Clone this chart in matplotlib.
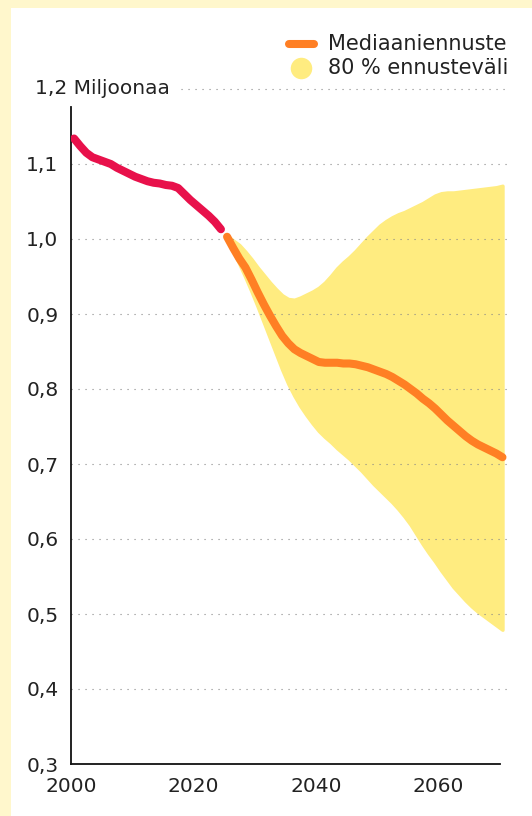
import matplotlib
matplotlib.use("Agg")
import matplotlib.pyplot as plt
from matplotlib.patches import Rectangle
from matplotlib.lines import Line2D
import numpy as np

plt.rcParams['font.family'] = ['DejaVu Sans']

# ---- data ----
hist_years = list(range(2000, 2025))
hist_vals = [1.134, 1.124, 1.115, 1.109, 1.106, 1.103, 1.100, 1.095, 1.091, 1.087,
             1.083, 1.080, 1.077, 1.075, 1.074, 1.072, 1.071, 1.068, 1.060, 1.052,
             1.045, 1.038, 1.031, 1.023, 1.013]

fc_years = list(range(2025, 2071))
median = [1.003, 0.988, 0.974, 0.962, 0.946, 0.929, 0.913, 0.898, 0.884, 0.871,
          0.861, 0.853, 0.848, 0.844, 0.840, 0.836, 0.835, 0.835, 0.835, 0.834,
          0.834, 0.833, 0.831, 0.829, 0.826, 0.823, 0.820, 0.816, 0.811, 0.806,
          0.800, 0.794, 0.787, 0.781, 0.774, 0.766, 0.758, 0.751, 0.744, 0.737,
          0.731, 0.726, 0.722, 0.718, 0.714, 0.709]
upper = [1.004, 0.998, 0.992, 0.983, 0.973, 0.962, 0.952, 0.942, 0.933, 0.925,
         0.920, 0.919, 0.922, 0.926, 0.930, 0.935, 0.942, 0.951, 0.961, 0.969,
         0.976, 0.984, 0.993, 1.002, 1.010, 1.018, 1.024, 1.029, 1.033, 1.036,
         1.040, 1.044, 1.048, 1.053, 1.058, 1.061, 1.062, 1.062, 1.063, 1.064,
         1.065, 1.066, 1.067, 1.068, 1.069, 1.071]
lower = [1.000, 0.984, 0.967, 0.949, 0.930, 0.910, 0.889, 0.868, 0.847, 0.826,
         0.807, 0.791, 0.777, 0.765, 0.754, 0.744, 0.736, 0.729, 0.721, 0.714,
         0.707, 0.699, 0.691, 0.682, 0.673, 0.665, 0.657, 0.649, 0.640, 0.630,
         0.619, 0.606, 0.593, 0.581, 0.570, 0.558, 0.547, 0.536, 0.527, 0.518,
         0.510, 0.503, 0.497, 0.491, 0.485, 0.479]

ytick_vals = [0.3, 0.4, 0.5, 0.6, 0.7, 0.8, 0.9, 1.0, 1.1]
ytick_labels = ["0,3", "0,4", "0,5", "0,6", "0,7", "0,8", "0,9", "1,0", "1,1"]
top_label = "1,2 Miljoonaa"
xtick_vals = [2000, 2020, 2040, 2060]
xtick_labels = ["2000", "2020", "2040", "2060"]
legend_labels = ["Mediaaniennuste", "80 % ennusteväli"]

RED = "#E8114B"
ORANGE = "#FF7F24"
YELLOW = "#FFEC80"
BG = "#FFF7CC"
TXT = "#222222"

W, H = 532, 816
fig = plt.figure(figsize=(W / 100, H / 100), dpi=100, facecolor=BG)
fig.patches.append(Rectangle((11 / W, 0), 1 - 11 / W, 1 - 8 / H, transform=fig.transFigure,
                             facecolor="white", edgecolor="none", zorder=-5))

x0, x1 = 71, 508
y_bot, y_top = 764, 89
ax = fig.add_axes([x0 / W, (H - y_bot) / H, (x1 - x0) / W, (y_bot - y_top) / H])
ax.set_zorder(2)
ax.set_facecolor("none")
px_per_year = 6.12
ax.set_xlim(2000, 2000 + (x1 - x0) / px_per_year)
ax.set_ylim(0.3, 1.2)

# values are mid-year: plot at year + 0.5
hx = np.array(hist_years) + 0.5
fx = np.array(fc_years) + 0.5

# grid
for v in ytick_vals[1:]:
    ax.axhline(v, color="#888888", lw=0.8, ls=(0, (1, 5.3)), zorder=2)
ax.plot([2017.9, ax.get_xlim()[1]], [1.2, 1.2], color="#888888", lw=0.8,
        ls=(0, (1, 5.3)), zorder=2, clip_on=False)

ax.fill_between(fx, lower, upper, facecolor=YELLOW, edgecolor=YELLOW,
                lw=2.5, joinstyle="round", zorder=1)
ax.plot(hx, hist_vals, color=RED, lw=5.8, solid_capstyle="round",
        solid_joinstyle="round", zorder=4)
ax.plot(fx, median, color=ORANGE, lw=5.8, solid_capstyle="round",
        solid_joinstyle="round", zorder=4)

for s in ["top", "right"]:
    ax.spines[s].set_visible(False)
ax.spines["left"].set_bounds(0.3, 1.176)
ax.spines["bottom"].set_bounds(2000, 2000 + (500 - x0) / px_per_year)
for s in ["left", "bottom"]:
    ax.spines[s].set_linewidth(1.3)
    ax.spines[s].set_color("#111111")

ax.set_yticks(ytick_vals)
ax.set_yticklabels(ytick_labels)
ax.set_xticks(xtick_vals)
ax.set_xticklabels(xtick_labels)
ax.tick_params(axis="both", length=0, labelsize=14.5, colors=TXT)
ax.tick_params(axis="y", pad=9)
ax.tick_params(axis="x", pad=9)
fig.text(35 / W, 1 - y_top / H, top_label, ha="left", va="center",
         fontsize=14.5, color=TXT, zorder=5)

# legend (manual)
fig.add_artist(Line2D([289 / W, 314 / W], [1 - 44 / H, 1 - 44 / H], color=ORANGE,
                      lw=5.8, solid_capstyle="round", transform=fig.transFigure, zorder=5))
fig.add_artist(Line2D([300.5 / W], [1 - 68 / H], marker="o", markersize=15.5,
                      markerfacecolor=YELLOW, markeredgecolor="none", ls="none",
                      transform=fig.transFigure, zorder=5))
fig.text(328 / W, 1 - 43.5 / H, legend_labels[0], ha="left", va="center",
         fontsize=15, color=TXT, zorder=5)
fig.text(328 / W, 1 - 68.5 / H, legend_labels[1], ha="left", va="center",
         fontsize=15, color=TXT, zorder=5)

fig.savefig("out.png", dpi=100, facecolor=BG)
